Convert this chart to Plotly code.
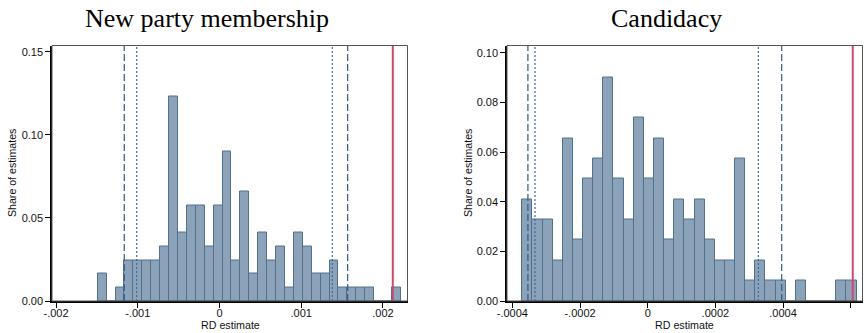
import plotly.graph_objects as go

# ---------------- data ----------------
N_TOTAL = 122

# New party membership histogram
np_bin_start = -0.00149
np_bin_width = 0.0001091
np_counts = [2, 0, 1, 3, 3, 3, 3, 4, 15, 5, 7, 7, 4, 7, 11, 3, 8, 2, 5, 3, 4, 1,
             5, 4, 2, 2, 3, 1, 1, 1, 1, 0, 0, 1]
np_dashed = [-0.001165, 0.001568]
np_dotted = [-0.001013, 0.00138]
np_actual = 0.00212
np_tickvals = [-0.002, -0.001, 0, 0.001, 0.002]
np_ticktext = ["-.002", "-.001", "0", ".001", ".002"]
np_ytickvals = [0, 0.05, 0.10, 0.15]

# Candidacy histogram
cd_bin_start = -0.0003706
cd_bin_width = 0.00002994
cd_counts = [5, 4, 4, 2, 8, 3, 6, 7, 11, 6, 4, 9, 6, 8, 3, 5, 4, 5, 3, 2, 2, 7,
             1, 2, 1, 1, 0, 1, 0, 0, 0, 1, 1]
cd_dashed = [-0.000354, 0.000396]
cd_dotted = [-0.000333, 0.000327]
cd_actual = 0.000606
cd_tickvals = [-0.0004, -0.0002, 0, 0.0002, 0.0004, 0.0006]
cd_ticktext = ["-.0004", "-.0002", "0", ".0002", ".0004", ".0006"]
cd_ytickvals = [0, 0.02, 0.04, 0.06, 0.08, 0.10]

titles = ["New party membership", "Candidacy"]
xlabel = "RD estimate"
ylabel = "Share of estimates"

# ---------------- styling ----------------
W, H = 864, 333
BAR_FILL = "#8ca2b8"
BAR_LINE = "#50708f"
DASH_COL = "#2f5a86"
DOT_COL = "#3a6c9e"
RED = "#d0486c"
SANS = "Liberation Sans, Arial, sans-serif"
SERIF = "Liberation Serif, Times New Roman, serif"

def px_x(p):
    return p / W

def px_y(p):
    return 1 - p / H

fig = go.Figure()

panels = [
    dict(start=np_bin_start, width=np_bin_width, counts=np_counts, dashed=np_dashed,
         dotted=np_dotted, actual=np_actual, tv=np_tickvals, tt=np_ticktext,
         ytv=np_ytickvals, xr=[-0.002049, 0.0023], yr=[0, 0.1537],
         dom=[52, 407.5], xa="x", ya="y", title_x=207, axcenter=230, ylab_x=12),
    dict(start=cd_bin_start, width=cd_bin_width, counts=cd_counts, dashed=cd_dashed,
         dotted=cd_dotted, actual=cd_actual, tv=cd_tickvals, tt=cd_ticktext,
         ytv=cd_ytickvals, xr=[-0.0004158, 0.0006348], yr=[0, 0.1029],
         dom=[507, 862.5], xa="x2", ya="y2", title_x=666, axcenter=684.5, ylab_x=468),
]

shapes = []
annotations = []
for i, p in enumerate(panels):
    centers = [p["start"] + (k + 0.5) * p["width"] for k in range(len(p["counts"]))]
    shares = [c / N_TOTAL for c in p["counts"]]
    fig.add_trace(go.Bar(
        x=centers, y=shares, width=p["width"],
        marker=dict(color=BAR_FILL, line=dict(color=BAR_LINE, width=1)),
        xaxis=p["xa"], yaxis=p["ya"], showlegend=False, hoverinfo="skip",
    ))
    xref = p["xa"]
    yd = p["ya"] + " domain"
    for v in p["dashed"]:
        shapes.append(dict(type="line", xref=xref, yref=yd, x0=v, x1=v, y0=0, y1=1,
                           line=dict(color=DASH_COL, width=1.2, dash="7px,3px"), layer="above"))
    for v in p["dotted"]:
        shapes.append(dict(type="line", xref=xref, yref=yd, x0=v, x1=v, y0=0, y1=1,
                           line=dict(color=DOT_COL, width=1.2, dash="2px,2px"), layer="above"))
    shapes.append(dict(type="line", xref=xref, yref=yd, x0=p["actual"], x1=p["actual"], y0=0, y1=1,
                       line=dict(color=RED, width=2), layer="above"))
    # frame (top / right)
    shapes.append(dict(type="rect", xref=p["xa"] + " domain", yref=yd, x0=0, x1=1, y0=0, y1=1,
                       line=dict(color="#555555", width=1), layer="above"))

    axis_x = dict(domain=[px_x(p["dom"][0]), px_x(p["dom"][1])], range=p["xr"],
                  tickvals=p["tv"], ticktext=p["tt"], ticks="outside", ticklen=5,
                  tickcolor="black", tickwidth=1, showline=True, linecolor="black",
                  linewidth=1.5, showgrid=False, zeroline=False, automargin=False,
                  ticklabelstandoff=-4,
                  tickfont=dict(family=SANS, size=11, color="#111111"),
                  anchor=p["ya"])
    axis_y = dict(domain=[px_y(301), px_y(45.5)], range=p["yr"],
                  tickvals=p["ytv"], tickformat=".2f", ticks="outside", ticklen=5,
                  tickcolor="black", tickwidth=1, showline=True, linecolor="black",
                  linewidth=1.5, showgrid=False, zeroline=False, automargin=False,
                  tickfont=dict(family=SANS, size=11, color="#111111"),
                  anchor=p["xa"])
    suffix = "" if i == 0 else "2"
    fig.update_layout(**{"xaxis" + suffix: axis_x, "yaxis" + suffix: axis_y})

    annotations.append(dict(text=titles[i], xref="paper", yref="paper",
                            x=px_x(p["title_x"]), y=px_y(18.5), xanchor="center",
                            yanchor="middle", showarrow=False,
                            font=dict(family=SERIF, size=26, color="black")))
    annotations.append(dict(text=xlabel, xref="paper", yref="paper",
                            x=px_x(p["axcenter"]), y=px_y(324.5), xanchor="center",
                            yanchor="middle", showarrow=False,
                            font=dict(family=SANS, size=10.7, color="#111111")))
    annotations.append(dict(text=ylabel, xref="paper", yref="paper",
                            x=px_x(p["ylab_x"]), y=px_y(173), xanchor="center",
                            yanchor="middle", showarrow=False, textangle=-90,
                            font=dict(family=SANS, size=10.6, color="#111111")))

fig.update_layout(
    width=W, height=H, margin=dict(l=0, r=0, t=0, b=0, pad=0),
    paper_bgcolor="white", plot_bgcolor="white",
    bargap=0, shapes=shapes, annotations=annotations, showlegend=False,
)

fig.write_html("out.html")
